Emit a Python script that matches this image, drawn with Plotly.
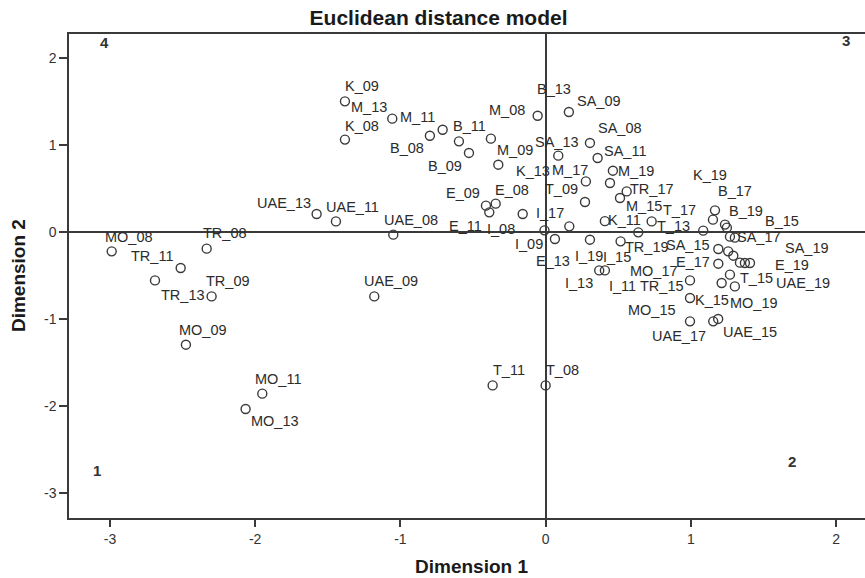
import plotly.graph_objects as go

# ---- data (Dimension 1, Dimension 2) ----
names = ["K_09", "K_08", "M_11", "B_08", "B_11", "M_13", "B_09", "B_13", "M_09", "M_08",
         "SA_09", "SA_08", "SA_13", "SA_11", "UAE_13", "UAE_11", "UAE_08", "MO_08", "TR_08", "TR_11",
         "TR_13", "TR_09", "UAE_09", "MO_09", "MO_11", "MO_13", "T_11", "T_08", "E_09", "E_08",
         "E_11", "I_08", "I_17", "I_09", "E_13", "K_13", "M_19", "M_17", "TR_17", "M_15",
         "T_09", "K_11", "T_17", "I_11", "I_13", "TR_19", "I_19", "I_15", "K_19", "B_17",
         "B_19", "B_15", "MO_15", "SA_17", "T_13", "SA_15", "K_17", "SA_19", "E_15", "T_19",
         "E_19", "E_17", "T_15", "TR_15", "UAE_19", "MO_17", "K_15", "UAE_17", "MO_19", "UAE_15"]
dim1 = [-1.382, -1.382, -1.056, -0.797, -0.709, -0.597, -0.528, -0.377, -0.326, -0.055,
        0.160, 0.305, 0.087, 0.358, -1.577, -1.444, -1.049, -2.988, -2.334, -2.513,
        -2.690, -2.300, -1.180, -2.477, -1.951, -2.066, -0.365, 0.000, -0.411, -0.344,
        -0.388, -0.158, 0.163, -0.008, 0.064, 0.277, 0.463, 0.443, 0.558, 0.512,
        0.271, 0.408, 0.730, 0.638, 0.305, 0.516, 0.369, 0.408, 1.166, 1.152,
        1.235, 1.248, 1.269, 1.303, 1.085, 1.189, 1.257, 1.292, 1.338, 1.372,
        1.407, 1.189, 1.269, 1.212, 1.303, 0.994, 0.994, 0.994, 1.154, 1.188]
dim2 = [1.506, 1.066, 1.307, 1.111, 1.180, 1.046, 0.913, 1.077, 0.778, 1.341,
        1.384, 1.028, 0.882, 0.855, 0.211, 0.126, -0.026, -0.218, -0.187, -0.409,
        -0.552, -0.736, -0.736, -1.291, -1.854, -2.030, -1.759, -1.759, 0.307, 0.330,
        0.230, 0.211, 0.069, 0.023, -0.076, 0.586, 0.709, 0.568, 0.471, 0.395,
        0.349, 0.129, 0.126, 0.000, -0.084, -0.103, -0.437, -0.437, 0.253, 0.146,
        0.089, 0.054, -0.049, -0.061, 0.020, -0.191, -0.218, -0.268, -0.348, -0.352,
        -0.352, -0.360, -0.486, -0.582, -0.621, -0.552, -0.754, -1.023, -1.023, -0.995]

x_ticks = [-3, -2, -1, 0, 1, 2]
y_ticks = [-3, -2, -1, 0, 1, 2]
quadrant_names = ["4", "3", "1", "2"]

# ---- styling: label offsets in pixels (dx right, dy down) ----
LABEL_OFFSET = {
    "K_09": (16.7, -15), "M_13": (-90.3, -34), "K_08": (16.7, -14), "M_11": (25.7, -1.7),
    "B_08": (-23.3, 12.7), "B_11": (27.3, -3.3), "B_09": (-24, 12.7), "B_13": (63, -50),
    "M_09": (16.7, -15), "M_08": (-30.2, -6), "SA_09": (30.3, -10.6), "SA_08": (29.7, -15),
    "SA_13": (-1.3, -13.3), "SA_11": (27.8, -6.6), "UAE_13": (-32.7, -11), "UAE_11": (17, -14.4),
    "UAE_08": (17.5, -15), "UAE_09": (17.2, -15), "MO_08": (16.8, -14.4), "TR_08": (18.3, -15.7),
    "TR_11": (-28.9, -11.6), "TR_13": (27.7, 14.3), "TR_09": (16.6, -15), "MO_09": (17, -14.3),
    "MO_11": (16, -14.7), "MO_13": (29.3, 12.4), "T_11": (16, -15), "T_08": (16.5, -15),
    "E_09": (-22.5, -12.7), "E_08": (16.3, -13.3), "E_11": (-23.3, 14), "I_08": (-22.2, 15),
    "I_17": (-19.3, -13.4), "I_09": (-15, 13.3), "E_13": (-2, 22.4), "K_13": (-53, -10),
    "M_19": (22.8, 0.7), "M_17": (-40, -13.3), "TR_17": (25.8, -2.4), "M_15": (24, 8.4),
    "T_09": (-23.3, -13), "K_11": (20, -1.5), "T_17": (28.3, -11.7), "I_11": (-15.8, 53.3),
    "I_13": (-11, 43.3), "TR_19": (26, 5.6), "I_19": (-10.3, -14.7), "I_15": (12.5, -13.4),
    "K_19": (-4.5, -35.7), "B_17": (22.5, -28.3), "B_19": (21.3, -13.3), "B_15": (55.5, -7),
    "MO_15": (-77.5, 73), "SA_17": (24, -0.3), "T_13": (-29.3, -4.3), "SA_15": (-30, -4.3),
    "SA_19": (73.4, -7.7), "E_19": (41.7, 1.7), "E_17": (-25, -1.3), "T_15": (26.7, 3.3),
    "TR_15": (-60, 3.4), "UAE_19": (68.3, -3.4), "MO_17": (-36, -9), "K_15": (21.7, 1.7),
    "UAE_17": (-11, 14.3), "MO_19": (40.7, -18.4), "UAE_15": (31.7, 13.4),
}
QUAD_POS = [(0.045, 0.983), (0.976, 0.987), (0.035, 0.098), (0.908, 0.116)]

FONT = "Liberation Sans, Arial, sans-serif"
INK = "#2b2b2b"

fig = go.Figure()
fig.add_trace(go.Scatter(
    x=dim1, y=dim2, mode="markers", text=names, hoverinfo="text",
    marker=dict(symbol="circle-open", size=9, color="#3a3a3a", line=dict(width=1.4)),
    showlegend=False,
))

annotations = []
for n, x, y in zip(names, dim1, dim2):
    if n in LABEL_OFFSET:
        dx, dy = LABEL_OFFSET[n]
        annotations.append(dict(x=x, y=y, xref="x", yref="y", text=n, showarrow=False,
                                xanchor="center", yanchor="middle",
                                xshift=dx, yshift=-dy,
                                font=dict(family=FONT, size=14.5, color=INK)))
for q, (qx, qy) in zip(quadrant_names, QUAD_POS):
    annotations.append(dict(x=qx, y=qy, xref="paper", yref="paper", text="<b>%s</b>" % q,
                            xanchor="center", yanchor="middle",
                            showarrow=False, font=dict(family=FONT, size=15, color="#333")))
annotations.append(dict(x=0.506, y=-0.101, xref="paper", yref="paper", text="<b>Dimension 1</b>",
                        xanchor="center", yanchor="middle",
                        showarrow=False, font=dict(family=FONT, size=19, color="#1a1a1a")))
annotations.append(dict(x=-0.064, y=0.5, xref="paper", yref="paper", text="<b>Dimension 2</b>",
                        xanchor="center", yanchor="middle",
                        textangle=-90, showarrow=False,
                        font=dict(family=FONT, size=19, color="#1a1a1a")))

fig.update_layout(
    width=865, height=578,
    margin=dict(l=69, r=0, t=34, b=60),
    paper_bgcolor="white", plot_bgcolor="white",
    title=dict(text="<b>Euclidean distance model</b>", x=0.507, xanchor="center",
               y=0.97, yanchor="middle", yref="container",
               font=dict(family=FONT, size=21, color="#1a1a1a")),
    annotations=annotations,
    xaxis=dict(range=[-3.282, 2.199], tickvals=x_ticks, ticktext=[str(v) for v in x_ticks],
               showgrid=False, zeroline=True, zerolinecolor="#3a3a3a", zerolinewidth=2,
               showline=True, linecolor="#3a3a3a", linewidth=1.5, mirror=True,
               ticks="outside", ticklen=7, tickcolor="#3a3a3a", tickwidth=1.5,
               tickfont=dict(family=FONT, size=14, color="#333")),
    yaxis=dict(range=[-3.283, 2.28], tickvals=y_ticks, ticktext=[str(v) for v in y_ticks],
               showgrid=False, zeroline=True, zerolinecolor="#3a3a3a", zerolinewidth=2,
               showline=True, linecolor="#3a3a3a", linewidth=1.5, mirror=False,
               ticks="outside", ticklen=8, tickcolor="#3a3a3a", tickwidth=1.5,
               tickfont=dict(family=FONT, size=14, color="#333")),
)

fig.write_html("out.html")
